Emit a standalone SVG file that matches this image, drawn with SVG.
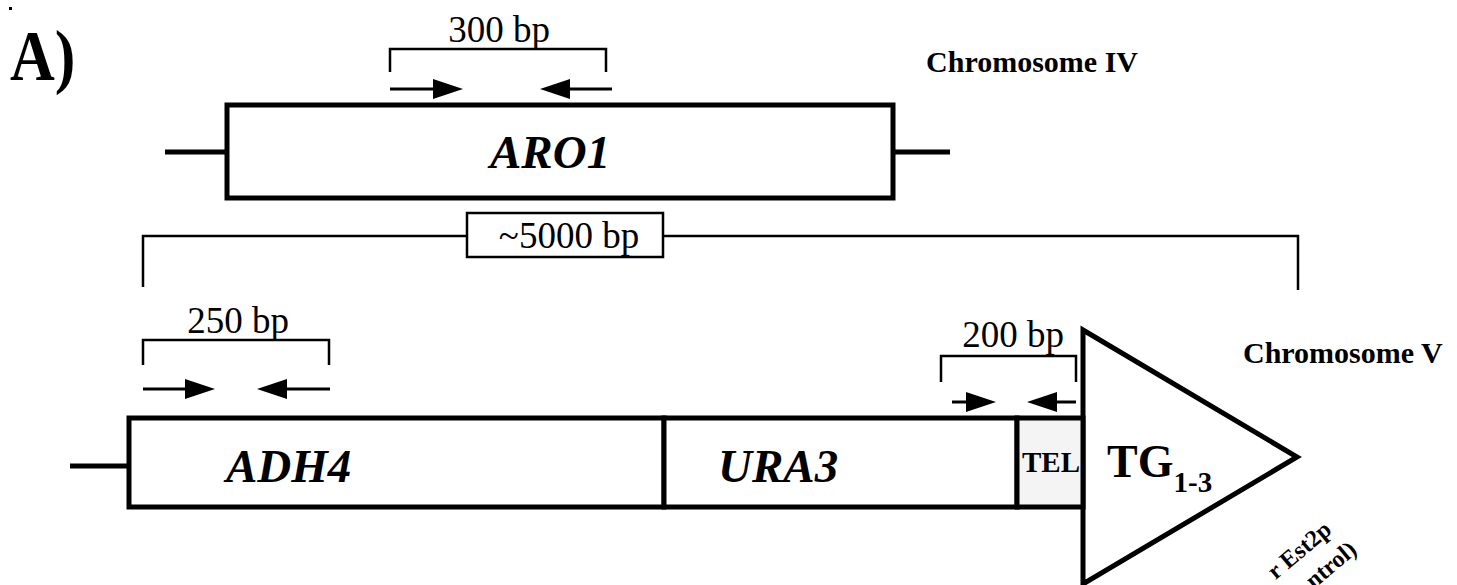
<svg xmlns="http://www.w3.org/2000/svg" width="1457" height="585" viewBox="0 0 1457 585">
<style>
.box{fill:#fff;stroke:#000;stroke-width:5}
.tel{fill:#f4f4f4;stroke:#000;stroke-width:5}
.stub{stroke:#000;stroke-width:5;fill:none}
.thin{stroke:#000;stroke-width:2.5;fill:none}
.arr{stroke:#000;stroke-width:3;fill:none;marker-end:url(#ah)}
.lbl{font-family:"Liberation Serif",serif;font-size:37px;fill:#000}
.gene{font-family:"Liberation Serif",serif;font-weight:bold;font-style:italic;font-size:47px;fill:#000}
.chr{font-family:"Liberation Serif",serif;font-weight:bold;font-size:30px;fill:#000}
.bold{font-family:"Liberation Serif",serif;font-weight:bold;fill:#000}
</style>
<defs>
<marker id="ah" viewBox="0 0 30 20" refX="0" refY="10" markerWidth="30" markerHeight="20" markerUnits="userSpaceOnUse" orient="auto">
<path d="M0,0 L30,10 L0,20 z" fill="#000"/>
</marker>
</defs>
<rect width="1457" height="585" fill="#fff"/>
<rect x="9" y="7" width="3" height="3" fill="#000"/>
<text class="bold" font-size="62" transform="translate(10,80) scale(1,1.17)">A)</text>

<g id="chr4">
<text class="chr" x="1138" y="72" text-anchor="end">Chromosome IV</text>
</g>
<g id="aro1">
<path class="stub" d="M165,152 H227 M893,152 H950"/>
<rect class="box" x="227" y="105" width="666" height="93"/>
<text class="gene" x="490" y="168">ARO1</text>
</g>
<g id="bracket300">
<path class="thin" d="M390,72 V49 H606 V72"/>
<text class="lbl" x="499" y="42" text-anchor="middle">300 bp</text>
</g>
<g id="bracket5000">
<path class="thin" d="M143,287 V236 H467 M663,236 H1298 V290"/>
<rect x="467" y="213" width="196" height="44" fill="#fff" stroke="#000" stroke-width="2.5"/>
<text class="lbl" x="569" y="248" text-anchor="middle">~5000 bp</text>
</g>
<g id="bracket250">
<path class="thin" d="M143,365 V340 H329 V365"/>
<text class="lbl" x="238" y="333" text-anchor="middle">250 bp</text>
</g>
<g id="bracket200">
<path class="thin" d="M941,382 V356 H1076 V382"/>
<text class="lbl" x="1013" y="347" text-anchor="middle">200 bp</text>
</g>
<g id="tg13">
<polygon class="box" points="1083,330 1297,457 1083,584"/>
<text class="bold" x="1107" y="477" font-size="46">TG<tspan font-size="29" dy="15">1-3</tspan></text>
</g>
<g id="chr5">
<path class="stub" d="M70,466 H129"/>
<rect class="box" x="129" y="418" width="535" height="89"/>
<rect class="box" x="664" y="418" width="353" height="89"/>
<rect class="tel" x="1017" y="418" width="66" height="89"/>
<text class="gene" x="226" y="482">ADH4</text>
<text class="gene" x="718" y="482">URA3</text>
<text class="bold" x="1022" y="472" font-size="29">TEL</text>
<text class="chr" x="1243" y="363">Chromosome V</text>
</g>
<g id="rotated-label">
<text class="bold" font-size="24" text-anchor="end" transform="translate(1333,532) rotate(-40)">r Est2p</text>
<text class="bold" font-size="24" text-anchor="end" transform="translate(1358,552) rotate(-40)">ntrol)</text>
</g>
<g id="connectors">
<path class="arr" d="M390,89 H433"/>
<path class="arr" d="M612,89 H570"/>
<path class="arr" d="M143,389 H185"/>
<path class="arr" d="M330,389 H287"/>
<path class="arr" d="M952,402 H966"/>
<path class="arr" d="M1076,402 H1057"/>
</g>
</svg>
